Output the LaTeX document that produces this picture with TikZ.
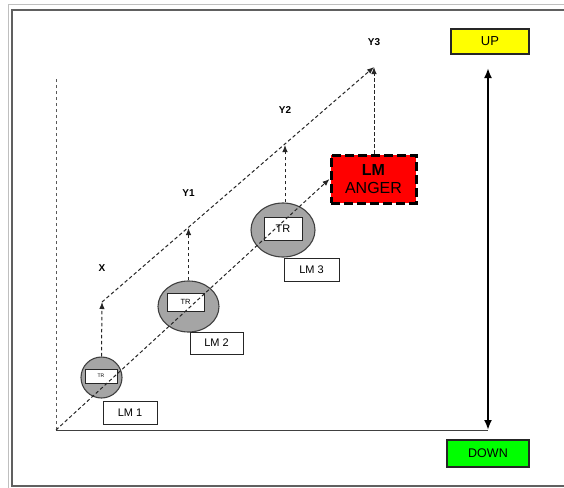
\documentclass[tikz,border=0pt]{standalone}
\usepackage{fontspec}
\setmainfont{Liberation Sans}
\usetikzlibrary{shapes.geometric, arrows.meta, positioning}
\definecolor{framegray}{HTML}{606060}
\definecolor{blobgray}{HTML}{A5A5A5}
\definecolor{angerred}{HTML}{FF0000}
\definecolor{upyellow}{HTML}{FFFF00}
\definecolor{downgreen}{HTML}{00FF00}

\begin{document}
\begin{tikzpicture}[x=1pt, y=-1pt, node distance=30pt]
\tikzstyle{lmBlob} = [ellipse, draw=black!75, line width=1.1pt, fill=blobgray, inner sep=0pt]
\tikzstyle{trBox} = [rectangle, draw=black!85, line width=0.9pt, fill=white, inner sep=0pt]
\tikzstyle{lmLabel} = [rectangle, draw=black!85, line width=0.9pt, fill=white, minimum width=54pt, minimum height=23pt, font=\fontsize{11}{13}\selectfont]
\tikzstyle{moodBox} = [rectangle, draw=black!85, line width=1.6pt, inner sep=0pt, font=\fontsize{12.5}{14}\selectfont]
\tikzstyle{levelLabel} = [inner sep=0pt, font=\fontsize{10}{12}\selectfont\bfseries]
\tikzstyle{trend} = [black!85, line width=1pt, dash pattern=on 3.5pt off 2.5pt, -{Latex[length=7pt, width=5.5pt]}]

\useasboundingbox (0,0) rectangle (564,487);

% page frame
\draw[black!25, line width=0.8pt] (8,490) -- (8,4) -- (570,4);
\draw[framegray, line width=2pt] (12,10) rectangle (580,486);

% axes
\coordinate (o) at (56,430);
\coordinate (axtop) at (56,78);
\coordinate (top) at (488,68);
\coordinate (bottom) at (488,430);
\draw[black!65, line width=1pt, dash pattern=on 3pt off 3pt] (o) -- (axtop);
\draw[black!75, line width=1pt] (o) -- (bottom);
\draw[line width=2.4pt, {Latex[length=10pt, width=8pt]}-{Latex[length=10pt, width=8pt]}] (top) -- (bottom);

\node (up) [moodBox, fill=upyellow, minimum width=78pt, minimum height=25pt, font=\fontsize{13}{15}\selectfont] at (490,41.5) {UP};
\node (down) [moodBox, fill=downgreen, minimum width=82pt, minimum height=27pt] at (488,453.5) {DOWN};

% landmarks along the lower trend
\node (lm1) [lmBlob, minimum width=41pt, minimum height=41pt] at (101.5,377.5) {};
\node (tr1) [trBox, minimum width=32pt, minimum height=14pt, font=\fontsize{5}{6}\selectfont] at (101,376) {TR};
\node (lab1) [lmLabel] at (130,412.5) {LM 1};

\node (lm2) [lmBlob, minimum width=61pt, minimum height=51pt] at (188.5,306.5) {};
\node (tr2) [trBox, minimum width=37pt, minimum height=18pt, font=\fontsize{7.5}{9}\selectfont] at (185.5,302) {TR};
\node (lab2) [lmLabel, minimum width=53pt, minimum height=22pt] at (216.5,343) {LM 2};

\node (lm3) [lmBlob, minimum width=64pt, minimum height=54pt] at (283,230) {};
\node (tr3) [trBox, minimum width=38pt, minimum height=23pt, font=\fontsize{11}{13}\selectfont] at (283,228.5) {TR};
\node (lab3) [lmLabel, minimum width=55pt] at (311.5,269.5) {LM 3};

\node (anger) [rectangle, fill=angerred, draw=black, line width=3pt, dash pattern=on 9pt off 4pt, minimum width=85pt, minimum height=48pt, align=center, font=\fontsize{16}{18}\selectfont] at (373.5,179) {\textbf{LM}\\ANGER};

% points on the upper trend
\coordinate (px) at (102,302);
\coordinate (py1) at (188.5,228);
\coordinate (py2) at (285,145);
\coordinate (py3) at (374,67);

\node (labx) [levelLabel, above=30pt of px] {X};
\node (laby1) [levelLabel, above=31pt of py1] {Y1};
\node (laby2) [levelLabel, above=31pt of py2] {Y2};
\node (laby3) [levelLabel, above=21pt of py3] {Y3};

% trends
\draw[trend] (o) -- (anger.west);
\draw[trend] (px) -- (py3);
\draw[trend] (lm1.north) -- (px);
\draw[trend] (lm2.north) -- (py1);
\draw[trend] (lm3.north -| py2) -- (py2);
\draw[trend] (anger.north -| py3) -- (py3);

\end{tikzpicture}
\end{document}
